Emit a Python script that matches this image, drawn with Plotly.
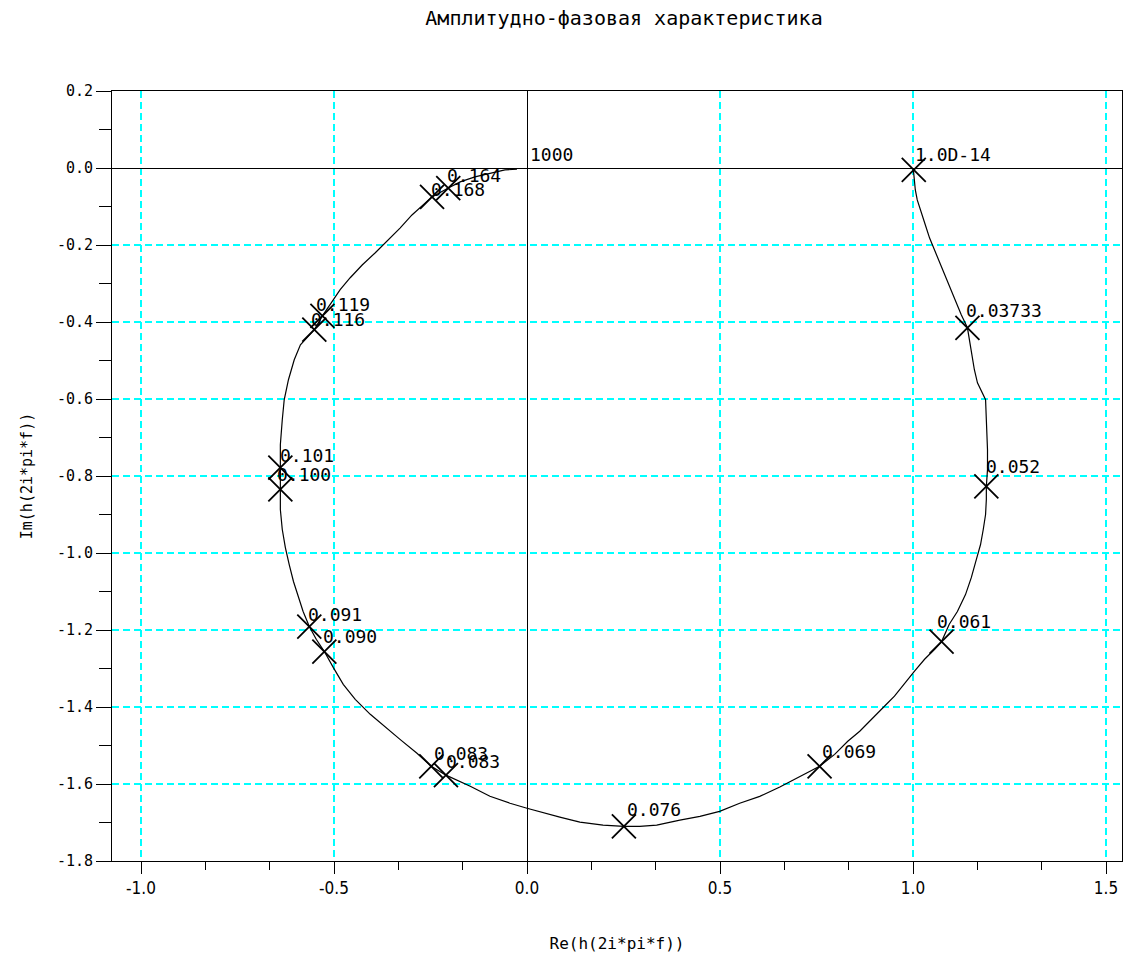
import plotly.graph_objects as go

# ---- data ----
curve_re = [1.001, 1.006, 1.011, 1.022, 1.032, 1.043, 1.058, 1.074, 1.089, 1.102, 1.115, 1.125, 1.141,
            1.146, 1.154, 1.159, 1.167, 1.180, 1.188, 1.190, 1.193, 1.193, 1.190,
            1.190, 1.188, 1.182, 1.175, 1.164, 1.151, 1.136, 1.115, 1.094, 1.074,
            1.056, 1.030, 1.004, 0.978, 0.952, 0.926, 0.893, 0.862, 0.831, 0.797, 0.758,
            0.706, 0.655, 0.603, 0.551, 0.499, 0.448, 0.396, 0.336, 0.292, 0.251,
            0.197, 0.137, 0.085, 0.034, 0.000, -0.044, -0.096, -0.147, -0.186, -0.210,
            -0.248, -0.285, -0.329, -0.367, -0.406, -0.445, -0.476, -0.502, -0.525,
            -0.546, -0.564, -0.580, -0.592, -0.605, -0.616, -0.626, -0.634, -0.639, -0.639,
            -0.639, -0.639, -0.634, -0.629, -0.618, -0.603, -0.587, -0.567, -0.551, -0.530,
            -0.510, -0.484, -0.458, -0.427, -0.393, -0.360, -0.329, -0.298, -0.272, -0.246,
            -0.204, -0.173, -0.135, -0.096, -0.057, -0.026]
curve_im = [-0.005, -0.057, -0.083, -0.114, -0.148, -0.182, -0.218, -0.259, -0.296, -0.324, -0.355, -0.381, -0.415,
            -0.446, -0.485, -0.524, -0.558, -0.584, -0.602, -0.654, -0.732, -0.783, -0.827,
            -0.861, -0.900, -0.939, -0.978, -1.017, -1.064, -1.108, -1.152, -1.185, -1.230,
            -1.250, -1.276, -1.307, -1.341, -1.372, -1.398, -1.432, -1.463, -1.489, -1.523, -1.554,
            -1.582, -1.608, -1.632, -1.650, -1.671, -1.684, -1.694, -1.707, -1.710, -1.710,
            -1.707, -1.699, -1.686, -1.673, -1.663, -1.650, -1.632, -1.606, -1.588, -1.577,
            -1.554, -1.520, -1.484, -1.453, -1.419, -1.380, -1.341, -1.297, -1.256,
            -1.224, -1.191, -1.152, -1.115, -1.074, -1.030, -0.986, -0.939, -0.887, -0.835,
            -0.778, -0.719, -0.654, -0.602, -0.550, -0.498, -0.459, -0.436, -0.420, -0.384,
            -0.355, -0.316, -0.285, -0.252, -0.220, -0.187, -0.156, -0.122, -0.099, -0.075,
            -0.052, -0.036, -0.023, -0.013, -0.005, -0.003]

marker_re = [1.002, 1.141, 1.190, 1.074, 0.758, 0.251, -0.210, -0.248, -0.525, -0.564,
             -0.639, -0.639, -0.551, -0.530, -0.246, -0.204]
marker_im = [-0.005, -0.415, -0.827, -1.230, -1.554, -1.710, -1.577, -1.554, -1.256, -1.191,
             -0.835, -0.778, -0.420, -0.384, -0.075, -0.052]

label_text = ["1000", "1.0D-14", "0.03733", "0.052", "0.061", "0.069", "0.076", "0.083", "0.083",
              "0.090", "0.091", "0.100", "0.101", "0.116", "0.119", "0.164", "0.168"]
label_re = [0.008, 1.006, 1.136, 1.190, 1.063, 0.763, 0.259, -0.241, -0.210,
            -0.528, -0.567, -0.647, -0.639, -0.559, -0.546, -0.207, -0.248]
label_im = [0.016, 0.016, -0.389, -0.796, -1.198, -1.536, -1.686, -1.541, -1.562,
            -1.237, -1.180, -0.815, -0.765, -0.412, -0.374, -0.039, -0.075]

x_tickvals = [-1.0, -0.5, 0.0, 0.5, 1.0, 1.5]
x_ticktext = ["-1.0", "-0.5", "0.0", "0.5", "1.0", "1.5"]
x_minor = [-0.8333, -0.6667, -0.3333, -0.1667, 0.1667, 0.3333, 0.6667, 0.8333, 1.1667, 1.3333]
y_tickvals = [0.2, 0.0, -0.2, -0.4, -0.6, -0.8, -1.0, -1.2, -1.4, -1.6, -1.8]
y_ticktext = ["0.2", "0.0", "-0.2", "-0.4", "-0.6", "-0.8", "-1.0", "-1.2", "-1.4", "-1.6", "-1.8"]
y_minor = [0.1, -0.1, -0.3, -0.5, -0.7, -0.9, -1.1, -1.3, -1.5, -1.7]

title_text = "Амплитудно-фазовая характеристика"
x_title = "Re(h(2i*pi*f))"
y_title = "Im(h(2i*pi*f))"

MONO = "DejaVu Sans Mono, Liberation Mono, monospace"
NARROW = "Liberation Sans Narrow, DejaVu Sans Condensed, Liberation Sans, Arial"
CYAN = "#00ffff"

# plot area: 1010 x 770 px, 386 px per unit on x, 385 px per unit on y
X_MIN = -1.0 - 29 / 386
X_MAX = X_MIN + 1010 / 386

fig = go.Figure()
fig.add_trace(go.Scatter(x=curve_re, y=curve_im, mode="lines",
                         line=dict(color="black", width=1.2), showlegend=False,
                         hoverinfo="skip"))
fig.add_trace(go.Scatter(x=marker_re, y=marker_im, mode="markers",
                         marker=dict(symbol="x-thin-open", size=24, color="black",
                                     line=dict(color="black", width=1.8)),
                         showlegend=False, hoverinfo="skip"))

for t, xr, yi in zip(label_text, label_re, label_im):
    fig.add_annotation(x=xr, y=yi, text=t, showarrow=False, xanchor="left", yanchor="bottom",
                       xshift=-2, yshift=-5, font=dict(family=MONO, size=18, color="black"))

fig.update_layout(
    width=1128, height=956,
    margin=dict(l=112, r=6, t=91, b=95),
    paper_bgcolor="white", plot_bgcolor="white",
    title=dict(text=title_text, x=624 / 1128, xanchor="center", xref="container",
               y=1 - 18 / 956, yref="container", yanchor="middle",
               font=dict(family=MONO, size=20, color="black")),
    showlegend=False,
)

fig.update_xaxes(
    range=[X_MIN, X_MAX], tickvals=x_tickvals, ticktext=x_ticktext,
    showgrid=True, gridcolor=CYAN, griddash="7px,4px", gridwidth=1.5,
    zeroline=True, zerolinecolor="black", zerolinewidth=1,
    showline=True, linecolor="black", linewidth=1, mirror=True,
    ticks="outside", ticklen=12, tickcolor="black", tickwidth=1,
    minor=dict(tickvals=x_minor, ticks="outside", ticklen=8, tickcolor="black",
               showgrid=False),
    tickfont=dict(family=NARROW, size=17, color="black"),
    title=dict(text=x_title, font=dict(family=MONO, size=16, color="black"), standoff=40),
)
fig.update_yaxes(
    range=[-1.8, 0.2], tickvals=y_tickvals, ticktext=y_ticktext,
    showgrid=True, gridcolor=CYAN, griddash="7px,4px", gridwidth=1.5,
    zeroline=True, zerolinecolor="black", zerolinewidth=1,
    showline=True, linecolor="black", linewidth=1, mirror=True,
    ticks="outside", ticklen=15, tickcolor="black", tickwidth=1,
    minor=dict(tickvals=y_minor, ticks="outside", ticklen=12, tickcolor="black",
               showgrid=False),
    tickfont=dict(family=MONO, size=15, color="black"),
    title=dict(text=y_title, font=dict(family=MONO, size=15, color="black"), standoff=20),
)

fig.write_html("out.html")
